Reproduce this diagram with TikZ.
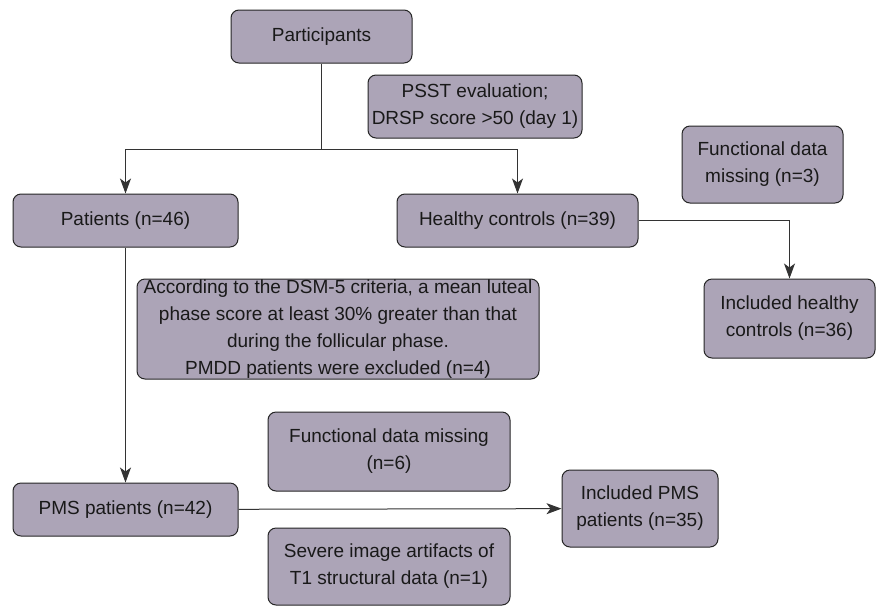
\documentclass[tikz,border=0pt]{standalone}
\usepackage{fontspec}
\setmainfont{Liberation Sans}
\usetikzlibrary{arrows.meta}

\definecolor{boxfill}{RGB}{172,164,183}
\tikzset{
  flowbox/.style={draw=black!85, fill=boxfill, rounded corners=8pt, line width=1pt,
    align=center, inner sep=0pt, text=black!90, font=\fontsize{19}{27}\selectfont},
  flowline/.style={line width=1pt, draw=black!80},
  flowarrow/.style={flowline, -{Stealth[length=15pt,width=11pt,inset=4pt]}}
}

\begin{document}
\begin{tikzpicture}[x=1pt,y=-1pt]
\useasboundingbox (0,0) rectangle (876,606);

\node[flowbox, minimum width=181pt, minimum height=53pt] (participants) at (321.5,36.5) {Participants};
\node[flowbox, minimum width=214pt, minimum height=63pt] (psst) at (475,106.5) {PSST evaluation;\\DRSP score >50 (day 1)};
\node[flowbox, minimum width=225pt, minimum height=53pt] (patients) at (125.5,220.5) {Patients (n=46)};
\node[flowbox, minimum width=241pt, minimum height=53pt] (controls) at (517.5,220.5) {Healthy controls (n=39)};
\node[flowbox, minimum width=161pt, minimum height=77pt] (hcmissing) at (762.5,164.5) {Functional data\\missing (n=3)};
\node[flowbox, minimum width=171pt, minimum height=79pt] (hcincluded) at (789.5,318.5) {Included healthy\\controls (n=36)};
\node[flowbox, minimum width=402pt, minimum height=100pt] (dsm) at (338,329) {According to the DSM-5 criteria, a mean luteal\\phase score at least 30\% greater than that\\during the follicular phase.\\PMDD patients were excluded (n=4)};
\node[flowbox, minimum width=242pt, minimum height=79pt] (pmsmissing) at (389,451.5) {Functional data missing\\(n=6)};
\node[flowbox, minimum width=225pt, minimum height=53pt] (pms) at (125.5,509.5) {PMS patients (n=42)};
\node[flowbox, minimum width=242pt, minimum height=77pt] (artifacts) at (389,566.5) {Severe image artifacts of\\T1 structural data (n=1)};
\node[flowbox, minimum width=156pt, minimum height=77pt] (pmsincluded) at (640,508.5) {Included PMS\\patients (n=35)};

\coordinate (split) at (321.5,149);
\draw[flowline] (participants) -- (split);
\draw[flowarrow] (split) -| (patients);
\draw[flowarrow] (split) -| (controls);
\draw[flowarrow] (controls) -| (hcincluded);
\draw[flowarrow] (patients) -- (pms);
\draw[flowarrow] (pms) -- (pmsincluded);

\end{tikzpicture}
\end{document}
